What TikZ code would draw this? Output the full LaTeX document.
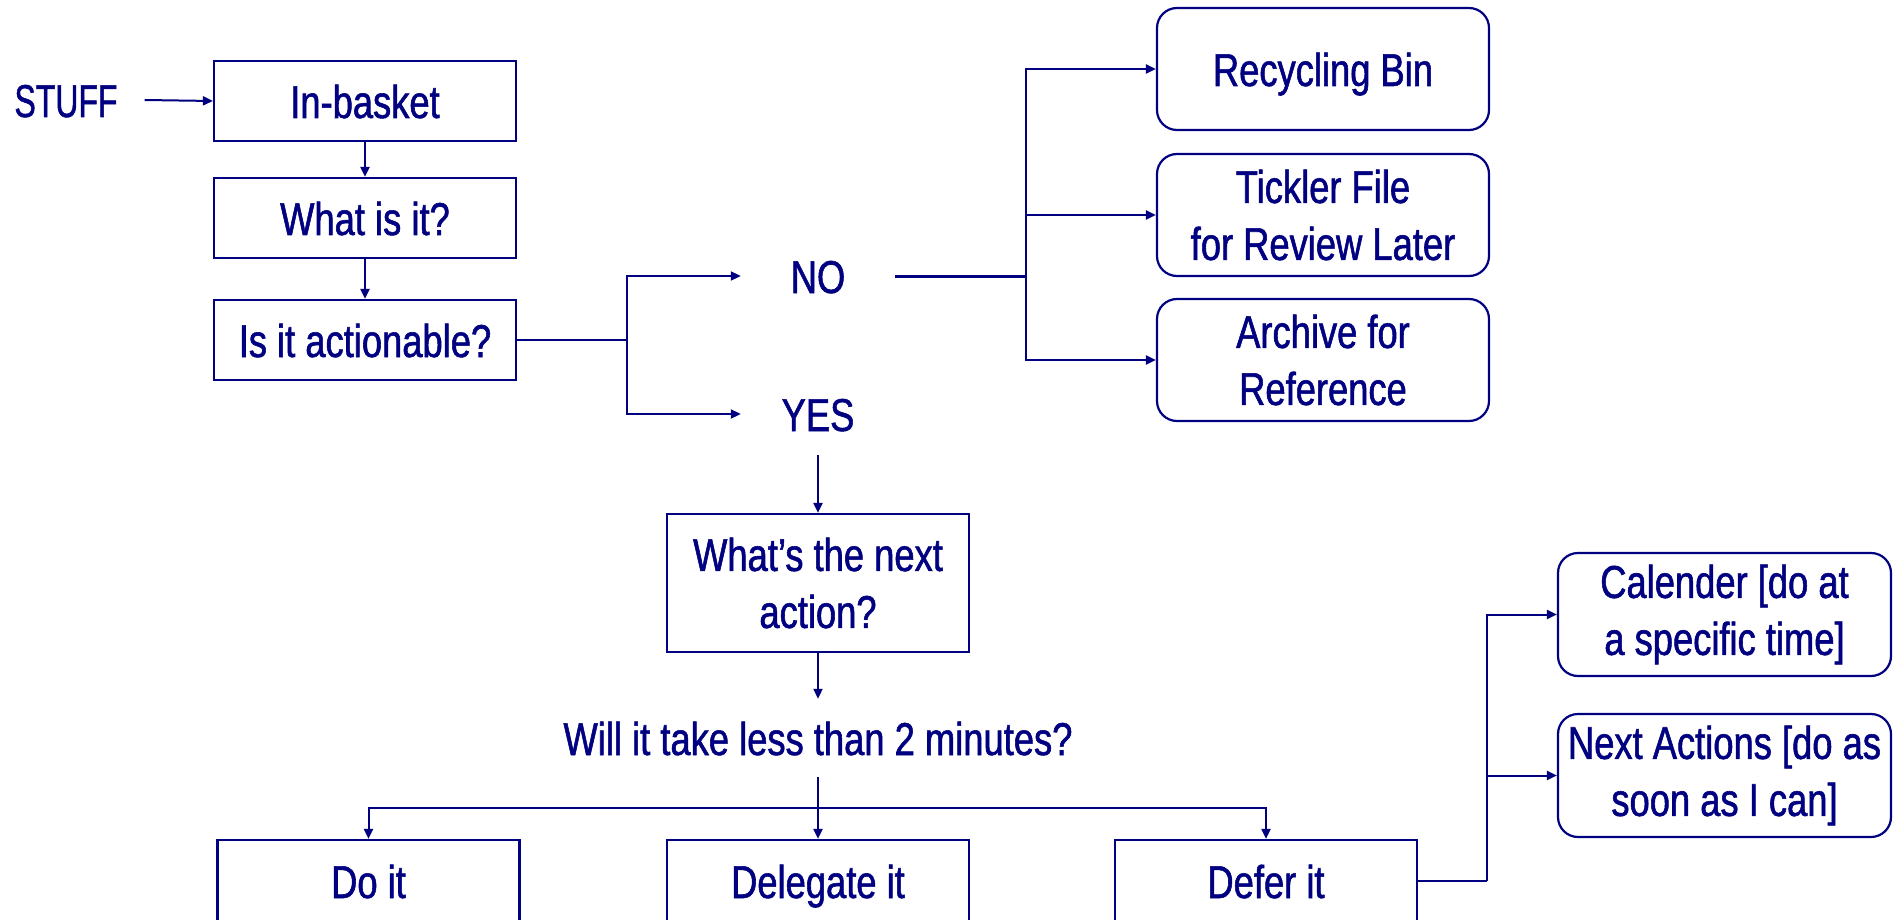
\documentclass[tikz,border=0pt]{standalone}
\usepackage{fontspec}
\setmainfont{Liberation Sans}[FakeStretch=0.79,FakeBold=1.2]
\usetikzlibrary{arrows.meta}
\definecolor{navy}{RGB}{0,0,128}
\begin{document}
\begin{tikzpicture}[x=1pt,y=-1pt,
  every node/.style={text=navy,font=\fontsize{46}{57}\selectfont,align=center},
  sqbox/.style={draw=navy,line width=2.2pt,minimum width=302pt,minimum height=80pt,inner sep=0pt},
  rbox/.style={draw=navy,line width=2.2pt,rounded corners=20pt,minimum width=332pt,minimum height=122pt,inner sep=0pt},
  lbl/.style={inner sep=0pt,minimum width=154pt,minimum height=80pt},
  oneline/.style={text height=34pt,text depth=0pt},
  conn/.style={draw=navy,line width=2pt},
  arr/.style={conn,-{Triangle[length=10pt,width=9pt]}},
  thickconn/.style={draw=navy,line width=3pt}]
\path[use as bounding box] (0,0) rectangle (1901,920);
\clip (0,0) rectangle (1901,920);

% left column
\node[inner sep=0pt,minimum width=102pt,oneline] (stuff) at (66,100) {\scalebox{0.88}[1]{STUFF}};
\node[sqbox,oneline] (inbasket) at (365,101) {In-basket};
\node[sqbox,oneline] (what) at (365,218) {What is it?};
\node[sqbox,oneline] (action) at (365,340) {Is it actionable?};

% decision labels
\node[lbl,oneline] (no) at (818,276) {NO};
\node[lbl,oneline] (yes) at (818,414) {YES};

% not actionable
\node[rbox,oneline] (recycle) at (1323,69) {Recycling Bin};
\node[rbox] (tickler) at (1323,215) {Tickler File\\for Review Later};
\node[rbox] (archive) at (1323,360) {Archive for\\Reference};

% actionable
\node[sqbox,minimum height=138pt] (next) at (818,583) {What’s the next\\action?};
\node[inner sep=0pt,minimum height=78pt,oneline] (will) at (818,738) {Will it take less than 2 minutes?};
\node[sqbox,minimum height=82pt,oneline] (doit) at (368.5,881) {Do it};
\node[sqbox,minimum height=82pt,oneline] (delegate) at (818,881) {Delegate it};
\node[sqbox,minimum height=82pt,oneline] (defer) at (1266,881) {Defer it};

% deferred
\node[rbox,minimum width=333pt,minimum height=123pt] (cal) at (1724.5,614.5) {Calender [do at\\a specific time]};
\node[rbox,minimum width=333pt,minimum height=123pt] (nexta) at (1724.5,775.5) {Next Actions [do as\\soon as I can]};

% junction coordinates
\coordinate (aj) at (627,340);
\coordinate (nj) at (1026,276);
\coordinate (wj) at (818,808);
\coordinate (dj) at (1487,881);

% connectors
\draw[arr] ([xshift=27pt]stuff.east) -- (inbasket.west);
\draw[arr] (inbasket.south) -- (what.north);
\draw[arr] (what.south) -- (action.north);
\draw[conn] (action.east) -- (aj);
\draw[arr] (aj) |- (no.west);
\draw[arr] (aj) |- (yes.west);

\draw[thickconn] (no.east) -- (nj);
\draw[arr] (nj) |- (recycle.west);
\draw[arr] (nj) |- (tickler.west);
\draw[arr] (nj) |- (archive.west);

\draw[arr] ([yshift=-1pt]yes.south) -- (next.north);
\draw[arr] (next.south) -- (will.north);
\draw[arr] (will.south) -- (delegate.north);
\draw[arr] (wj) -| (doit.north);
\draw[arr] (wj) -| (defer.north);

\draw[conn] (defer.east) -- (dj);
\draw[arr] (dj) |- (cal.west);
\draw[arr] (dj) |- (nexta.west);
\end{tikzpicture}
\end{document}
